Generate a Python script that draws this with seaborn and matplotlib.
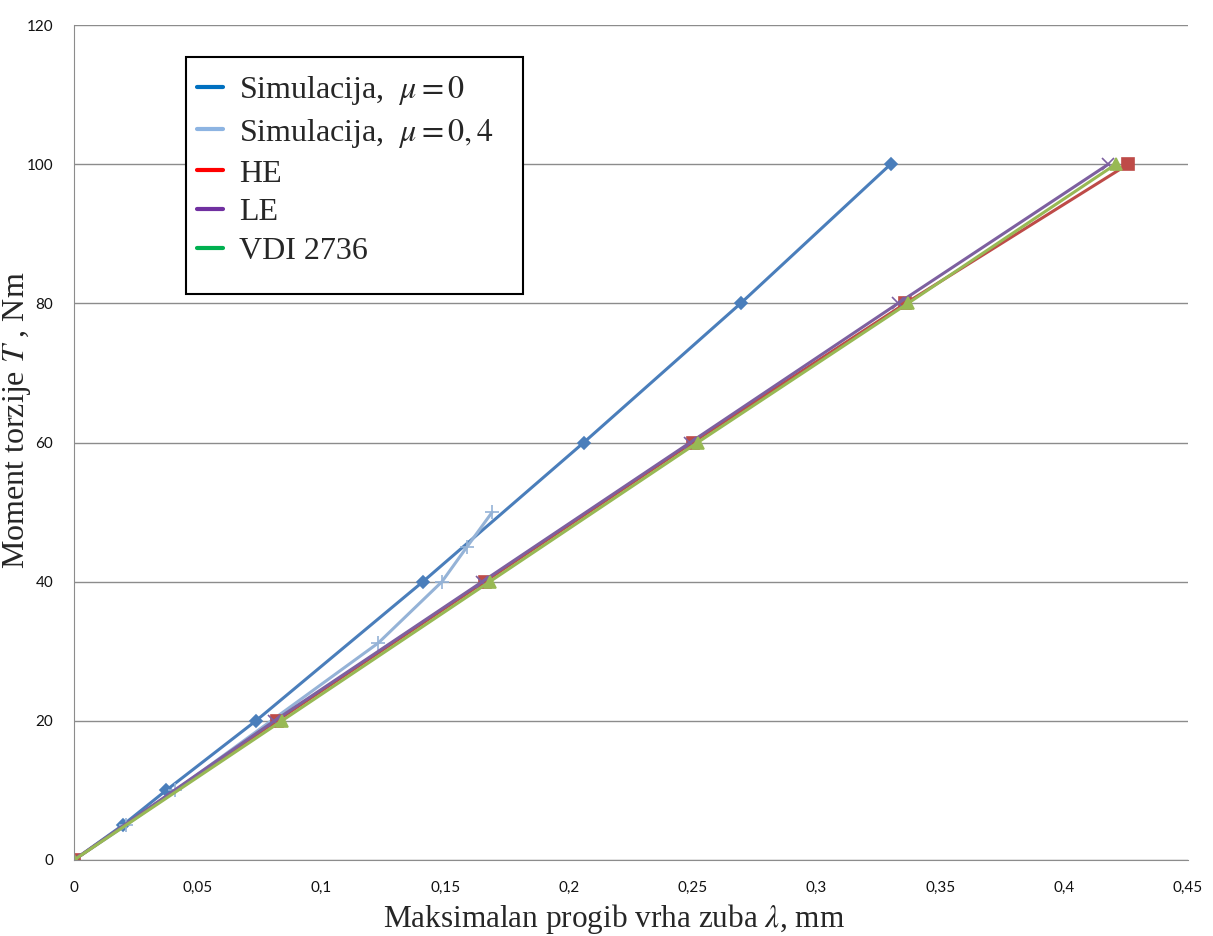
import matplotlib
matplotlib.use("Agg")
import matplotlib.pyplot as plt
import seaborn as sns
import pandas as pd
from matplotlib.lines import Line2D
from matplotlib.patches import Rectangle
from matplotlib.ticker import FuncFormatter

sns.set_style("white")
plt.rcParams['mathtext.fontset'] = 'stix'

# podaci
sim0_x = [0, 0.0197, 0.0372, 0.0735, 0.141, 0.206, 0.2694, 0.330]
sim0_y = [0, 5, 10, 20, 40, 60, 80, 100]
sim04_x = [0, 0.021, 0.041, 0.123, 0.1487, 0.1588, 0.169]
sim04_y = [0, 5, 10, 31.2, 40, 45, 50]
he_x = [0, 0.082, 0.166, 0.250, 0.336, 0.426]
le_x = [0, 0.081, 0.165, 0.249, 0.333, 0.418]
vdi_x = [0, 0.084, 0.168, 0.252, 0.337, 0.421]
t_y = [0, 20, 40, 60, 80, 100]

labels = ["Simulacija,  $\\mu=0$", "Simulacija,  $\\mu=0,4$", "HE", "LE", "VDI 2736"]
line_colors = ["#4A7EBB", "#95B3D7", "#BE4B48", "#7D60A0", "#98B954"]
legend_colors = ["#0070C0", "#8DB4E2", "#FF0000", "#7030A0", "#00B050"]

fig = plt.figure(figsize=(12.13, 9.36), dpi=100)
ax = fig.add_axes([0.061, 0.0812, 0.918, 0.892])

series = [(sim0_x, sim0_y, "D", 6), (sim04_x, sim04_y, "+", 10),
          (he_x, t_y, "s", 8), (le_x, t_y, "x", 8), (vdi_x, t_y, "^", 8)]
for (xs, ys, m, ms), c in zip(series, line_colors):
    df = pd.DataFrame({"x": xs, "y": ys})
    sns.lineplot(data=df, x="x", y="y", ax=ax, sort=False, color=c,
                 marker=m, markersize=ms, markeredgecolor=c, markeredgewidth=1.2,
                 linewidth=2.2, legend=False)

ax.set_xlim(0, 0.45)
ax.set_ylim(0, 120)
ax.set_xticks([i * 0.05 for i in range(10)])
ax.set_yticks(range(0, 121, 20))
ax.xaxis.set_major_formatter(FuncFormatter(lambda v, p: ("%g" % round(v, 2)).replace(".", ",")))
ax.yaxis.grid(True, color="#8C8C8C", linewidth=1)
ax.set_axisbelow(True)
for s in ["top", "right"]:
    ax.spines[s].set_visible(False)
for s in ["left", "bottom"]:
    ax.spines[s].set_color("#8C8C8C")
ax.tick_params(axis="both", which="major", direction="out", length=4, color="#8C8C8C",
               labelsize=11, labelcolor="#111111")
ax.tick_params(axis="x", pad=11)
ax.tick_params(axis="y", pad=11)
for t in ax.get_xticklabels() + ax.get_yticklabels():
    t.set_family("Lato")

ax.set_xlabel("Maksimalan progib vrha zuba $\\lambda$, mm", family="Liberation Serif",
              fontsize=22.5, va="baseline")
ax.set_ylabel("Moment torzije $T$ , Nm", family="Liberation Serif", fontsize=23)
ax.xaxis.set_label_coords(0.485, -0.0805)
ax.yaxis.set_label_coords(-0.037, 0.527)

# okvir legende
box = Rectangle((186 / 1213, 1 - 294 / 936), (523 - 186) / 1213, (294 - 57) / 936,
                transform=fig.transFigure, facecolor="white", edgecolor="black",
                linewidth=1.5, zorder=4, clip_on=False)
ax.add_patch(box)

handles = [Line2D([], [], color=c, linewidth=3) for c in legend_colors]
leg = ax.legend(handles, labels, loc="upper left", bbox_to_anchor=(197 / 1213, 1 - 74 / 936),
                bbox_transform=fig.transFigure, prop={"family": "Liberation Serif", "size": 23},
                frameon=False, handlelength=0.82, handletextpad=0.5, labelspacing=0.3,
                borderpad=0, borderaxespad=0)
leg.set_zorder(5)

fig.savefig("out.png", dpi=100)
